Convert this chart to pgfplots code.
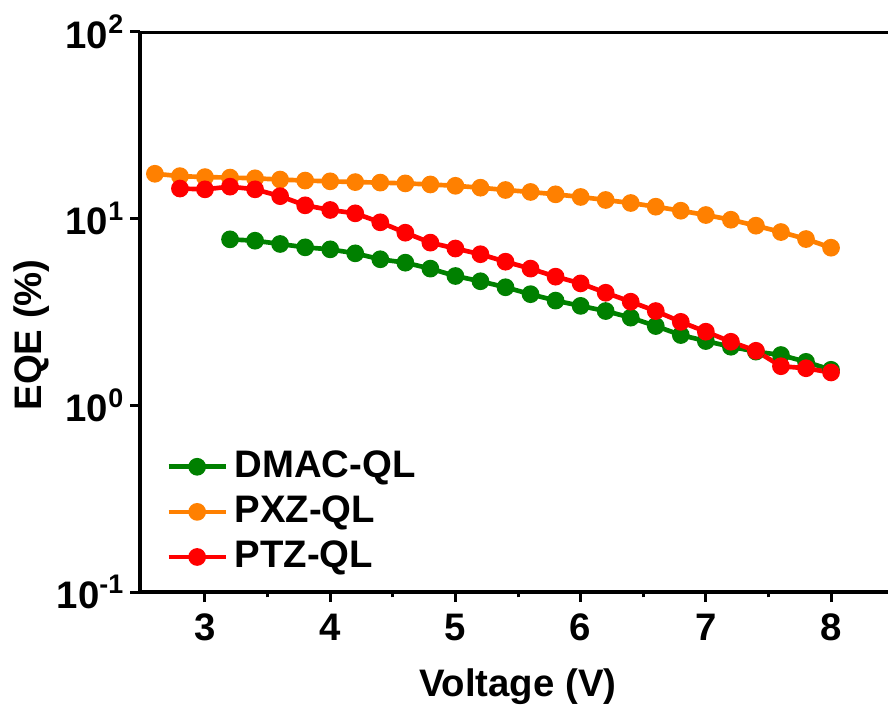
\documentclass[border=0pt]{standalone}
\usepackage{fontspec}
\setmainfont{Liberation Sans}
\usepackage{pgfplots}
\pgfplotsset{compat=1.18}

\definecolor{cgreen}{RGB}{0,128,0}
\definecolor{corange}{RGB}{255,128,0}
\definecolor{cred}{RGB}{255,0,0}

\newcommand{\lblfont}{\bfseries\fontsize{11.5}{13}\selectfont}

\begin{document}
\begin{tikzpicture}
% page = 888 x 711 px, 1 px = 0.3 pt, axis box 748 x 560 px
\path[use as bounding box] (-42pt,-35.7pt) rectangle (224.4pt,177.6pt);
\begin{axis}[
    at={(0,0)}, anchor=south west,
    scale only axis,
    width=224.4pt, height=168pt,
    ymode=log, log basis y=10,
    xmin=2.481, xmax=8.455,
    ymin=0.1, ymax=100,
    axis lines*=left,
    axis line style={line width=1.2pt},
    tick align=outside,
    major tick length=3pt,
    minor tick length=1.6pt,
    every tick/.style={black, line width=0.9pt},
    xtick={3,4,5,6,7,8},
    xticklabels={3,4,5,6,7,8},
    minor x tick num=1,
    ytick={0.1,1,10,100},
    yticklabels={10\textsuperscript{-1},10\textsuperscript{0},10\textsuperscript{1},10\textsuperscript{2}},
    tick label style={font=\lblfont},
    yticklabel style={xshift=2pt},
    xlabel={Voltage (V)},
    ylabel={EQE (\%)},
    label style={font=\lblfont},
    x label style={at={(axis description cs:0.505,0)}, anchor=center, yshift=-28.5pt},
    y label style={at={(axis description cs:-0.1444,0.459)}, anchor=center},
    legend cell align=left,
    legend style={draw=none, fill=none, at={(0.021,0.277)}, anchor=north west,
        font=\lblfont, row sep=0pt, nodes={inner sep=2pt}},
    every axis plot/.append style={line width=1.4pt, mark=*, mark size=1.95pt},
]
\addplot[color=cgreen, mark options={fill=cgreen}] coordinates {
(3.2,7.75) (3.4,7.62) (3.6,7.32) (3.8,7.02) (4.0,6.85) (4.2,6.52) (4.4,6.06)
(4.6,5.81) (4.8,5.40) (5.0,4.93) (5.2,4.62) (5.4,4.29) (5.6,3.94) (5.8,3.64)
(6.0,3.41) (6.2,3.20) (6.4,2.95) (6.6,2.66) (6.8,2.38) (7.0,2.21) (7.2,2.06)
(7.4,1.94) (7.6,1.86) (7.8,1.71) (8.0,1.55)};
\addlegendentry{DMAC-QL}
\addplot[color=corange, mark options={fill=corange}] coordinates {
(2.6,17.4) (2.8,16.9) (3.0,16.7) (3.2,16.6) (3.4,16.45) (3.6,16.2) (3.8,16.0)
(4.0,15.85) (4.2,15.7) (4.4,15.6) (4.6,15.45) (4.8,15.25) (5.0,15.0) (5.2,14.65)
(5.4,14.24) (5.6,13.9) (5.8,13.5) (6.0,13.07) (6.2,12.59) (6.4,12.13) (6.6,11.59)
(6.8,11.03) (7.0,10.46) (7.2,9.87) (7.4,9.17) (7.6,8.48) (7.8,7.78) (8.0,6.99)};
\addlegendentry{PXZ-QL}
\addplot[color=cred, mark options={fill=cred}] coordinates {
(2.8,14.5) (3.0,14.36) (3.2,14.84) (3.4,14.36) (3.6,13.2) (3.8,11.79) (4.0,11.13)
(4.2,10.68) (4.4,9.56) (4.6,8.41) (4.8,7.44) (5.0,6.92) (5.2,6.45) (5.4,5.88)
(5.6,5.40) (5.8,4.89) (6.0,4.50) (6.2,4.01) (6.4,3.59) (6.6,3.20) (6.8,2.80)
(7.0,2.48) (7.2,2.19) (7.4,1.96) (7.6,1.62) (7.8,1.58) (8.0,1.50)};
\addlegendentry{PTZ-QL}
% top spine (right spine lies outside the picture)
\draw[line width=1.2pt] (rel axis cs:0,1) -- (rel axis cs:1,1);
\end{axis}
\end{tikzpicture}
\end{document}
